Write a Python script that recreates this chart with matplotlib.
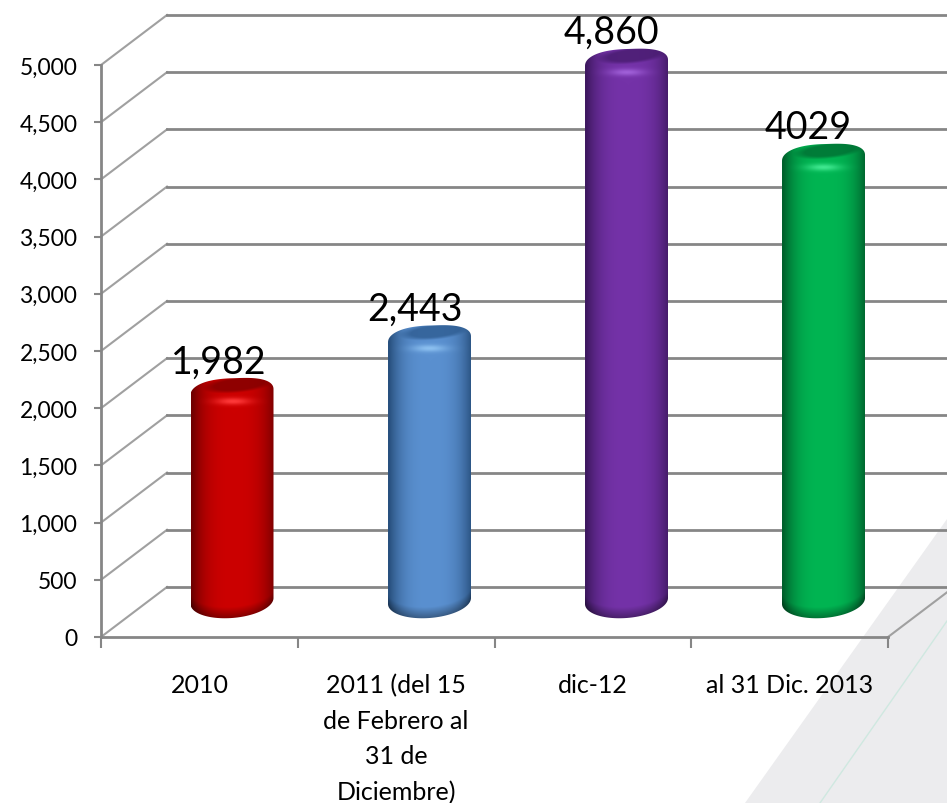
import numpy as np
import matplotlib
matplotlib.use('Agg')
import matplotlib.pyplot as plt
from matplotlib.patches import Polygon, PathPatch
from matplotlib.path import Path
from matplotlib.lines import Line2D

plt.rcParams['font.family'] = ['Lato', 'DejaVu Sans']

# datos
categorias = ['2010', '2011 (del 15\nde Febrero al\n31 de\nDiciembre)', 'dic-12', 'al 31 Dic. 2013']
valores = [1982, 2443, 4860, 4029]
etiquetas = ['1,982', '2,443', '4,860', '4029']
ticks_y = [0, 500, 1000, 1500, 2000, 2500, 3000, 3500, 4000, 4500, 5000]

# color centro, color borde, brillo
centros = ['#CC0000', '#5A90D0', '#7432A8', '#00B552']
bordes = ['#700000', '#28507E', '#3E1860', '#00602C']
brillos = ['#FF3A3A', '#8CC0F0', '#A060D8', '#40E890']

W, H = 947, 804
px_x = 196.75      # pixeles por categoria
px_y = 572 / 5000  # pixeles por unidad
fondo_x = 66 / px_x
fondo_y = 50 / px_y
GRIS = '#868686'

fig = plt.figure(figsize=(W / 100, H / 100), dpi=100)
ax = fig.add_axes([101 / W, 1 - 638 / H, 787 / W, 572 / H])

# fondo decorativo abajo a la derecha
fig.add_artist(Polygon([(745 / W, 0), (1, 0), (1, 1 - 520 / H)], closed=True,
                       transform=fig.transFigure, fc='#ECECEE', ec='none', zorder=-5))
fig.add_artist(Line2D([820 / W, 1], [0, 1 - 622 / H], color='#CFE8E0', lw=1,
                      transform=fig.transFigure, zorder=-4))

ax.patch.set_visible(False)
x_fin = (W - 101) / px_x

# rejilla
for v in ticks_y:
    ax.plot([0, fondo_x], [v, v + fondo_y], color='#A0A0A0', lw=1.5, clip_on=False, zorder=1)
    ax.plot([fondo_x, x_fin], [v + fondo_y, v + fondo_y], color=GRIS, lw=2, clip_on=False, zorder=1)
ax.plot([4, 4 + fondo_x], [0, fondo_y], color='#A0A0A0', lw=1.5, clip_on=False, zorder=1)


def hex_rgb(c):
    return np.array(matplotlib.colors.to_rgb(c))


def cilindro(xc_px, v, centro, borde, brillo):
    a, b_top, b_bot = 41.5, 14.0, 17.0
    h_top = v * px_y + 18
    h_bot = 36.0
    # silueta, con los hombros redondeados
    t1 = np.linspace(np.pi, 0, 80)
    t2 = np.linspace(0, -np.pi, 60)
    us = np.r_[a * np.sign(np.cos(t1)) * np.abs(np.cos(t1)) ** 0.75, a * np.cos(t2)]
    hs = np.r_[h_top + b_top * np.sin(t1) ** 0.9 + 3 * np.cos(t1), h_bot + b_bot * np.sin(t2) + 3 * np.cos(t2)]
    xy = np.c_[(xc_px + us) / px_x, hs / px_y]
    clip = PathPatch(Path(np.r_[xy, xy[:1]], closed=True), fc='none', ec='none', transform=ax.transData)
    ax.add_patch(clip)

    # sombreado
    u = np.linspace(-a, a, 200)
    h = np.linspace(h_bot - 24, h_top + 24, max(200, int(h_top - h_bot) * 2))
    U, Hh = np.meshgrid(u, h)
    n = np.clip(U / a, -1, 1)
    mezcla = (1 - np.abs(n - 0.03) ** 3.0)[..., None]
    c, e, g = hex_rgb(centro), hex_rgb(borde), hex_rgb(brillo)
    img = e + (c - e) * np.clip(mezcla, 0, 1)
    # parte de abajo mas oscura
    suelo = h_bot - b_bot * np.sqrt(1 - n ** 2) + 3 * n
    k = np.clip((Hh - suelo) / 11, 0, 1)[..., None]
    img = img * (0.65 + 0.35 * k)
    # brillo bajo la tapa
    luz = np.exp(-((U + 0) / 17) ** 2 - ((Hh - (h_top - 9)) / 3.5) ** 2)[..., None]
    img = img + (g - img) * luz
    # tapa
    d = ((U - 6) / 33) ** 2 + ((Hh - (h_top + 8) - 0.1 * (U - 6)) / 7.5) ** 2
    tapa = np.clip((1.25 - d) / 0.7, 0, 1)[..., None]
    img = img + (e * 1.15 - img) * tapa * 0.8
    img = np.clip(img, 0, 1)

    im = ax.imshow(img, extent=[(xc_px - a) / px_x, (xc_px + a) / px_x, h[0] / px_y, h[-1] / px_y],
                   origin='lower', aspect='auto', interpolation='bilinear', zorder=3)
    im.set_clip_path(clip)
    im.set_clip_box(fig.bbox)


centros_px = [131, 328.5, 525.5, 722.5]
for xc, v, c, e, g in zip(centros_px, valores, centros, bordes, brillos):
    cilindro(xc, v, c, e, g)

for i, (v, txt) in enumerate(zip(valores, etiquetas)):
    ax.annotate(txt, (i + 0.5, v), xytext=(19, 49), textcoords='offset pixels',
                ha='center', va='center', fontsize=27, color='black', annotation_clip=False, zorder=5)

ax.set_xlim(0, 4)
ax.set_ylim(0, 5000)

for s in ['top', 'right']:
    ax.spines[s].set_visible(False)
for s in ['left', 'bottom']:
    ax.spines[s].set_color(GRIS)
    ax.spines[s].set_linewidth(2)
ax.set_yticks(ticks_y, [f'{v:,}' for v in ticks_y])
ax.set_xticks([0, 1, 2, 3, 4], [''] * 5)
ax.set_xticks([0.5, 1.5, 2.5, 3.5], categorias, minor=True)
ax.tick_params(axis='y', length=5, width=1.5, color=GRIS, labelsize=16.5, pad=12)
ax.tick_params(axis='x', which='major', length=8, width=1.5, color=GRIS)
ax.tick_params(axis='x', which='minor', length=0, labelsize=18, pad=26)
for lab in ax.get_xticklabels(minor=True):
    lab.set_linespacing(1.66)

fig.savefig('out.png', dpi=100)
